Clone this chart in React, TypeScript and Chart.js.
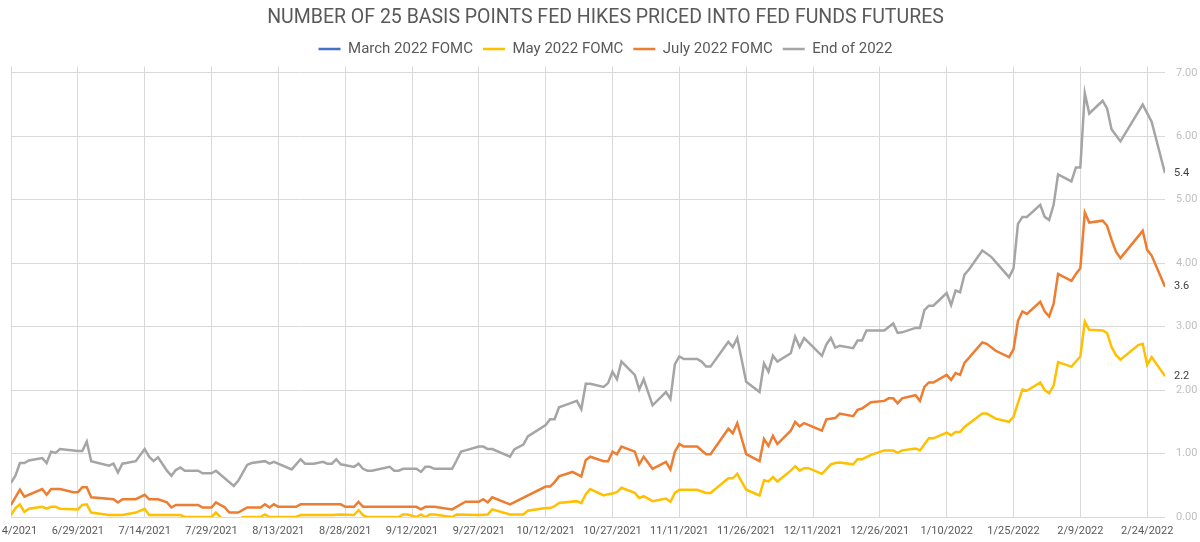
import React, { useEffect, useRef } from 'react';
import { Chart, registerables } from 'chart.js';

Chart.register(...registerables);

// x values are calendar days since 6/14/2021
const START_UTC = Date.UTC(2021, 5, 14);
const X_MAX_DAY = 259; // 2/28/2022
const X_TICK_STEP_DAYS = 15;
const Y_TICK_STEP = 1;

const TITLE = 'NUMBER OF 25 BASIS POINTS FED HIKES PRICED INTO FED FUNDS FUTURES';
const SERIES_NAMES = ['March 2022 FOMC', 'May 2022 FOMC', 'July 2022 FOMC', 'End of 2022'];

const marchDays: number[] = [];
const marchValues: number[] = [];

const mayDays = [
  0, 1, 2, 3, 4, 7, 8, 9, 10, 11, 15, 16, 17, 18, 22, 25, 28, 30, 31, 38, 39, 45, 46, 47, 48, 51, 52, 56, 57, 58,
  64, 65, 72, 74, 77, 78, 79, 80, 87, 88, 89, 91, 92, 93, 94, 95, 99, 100, 105, 107, 108, 112, 115, 116, 120, 121,
  122, 123, 127, 128, 129, 130, 133, 134, 135, 136, 137, 140, 141, 142, 144, 147, 148, 149, 150, 154, 156, 157, 161,
  162, 163, 165, 168, 169, 170, 171, 172, 175, 176, 177, 178, 179, 182, 184, 185, 186, 189, 190, 191, 193, 196, 198,
  199, 200, 203, 204, 206, 207, 210, 211, 212, 213, 214, 218, 219, 221, 224, 225, 227, 228, 231, 232, 233, 234, 235,
  238, 239, 240, 241, 242, 245, 246, 247, 248, 249, 253, 254, 255, 256, 259,
];
const mayValues = [
  0.03, 0.14, 0.2, 0.08, 0.13, 0.16, 0.13, 0.16, 0.16, 0.13, 0.12, 0.19, 0.2, 0.07, 0.03, 0.03, 0.07, 0.13, 0.03, 0.03,
  0.0, 0.0, 0.07, 0.0, -0.06, -0.06, 0.0, 0.0, 0.04, 0.0, 0.0, 0.03, 0.03, 0.04, 0.03, 0.11, 0.03, 0.0, 0.0, 0.04,
  0.04, 0.0, 0.04, 0.0, 0.04, 0.04, 0.0, 0.04, 0.03, 0.04, 0.12, 0.04, 0.04, 0.1, 0.14, 0.14, 0.17, 0.22, 0.25, 0.22,
  0.36, 0.44, 0.34, 0.36, 0.37, 0.39, 0.46, 0.38, 0.3, 0.33, 0.25, 0.29, 0.24, 0.38, 0.43, 0.43, 0.38, 0.38, 0.61,
  0.61, 0.68, 0.43, 0.34, 0.58, 0.56, 0.63, 0.56, 0.73, 0.8, 0.73, 0.77, 0.77, 0.68, 0.83, 0.85, 0.86, 0.83, 0.91,
  0.91, 0.98, 1.05, 1.05, 1.01, 1.05, 1.08, 1.05, 1.24, 1.24, 1.33, 1.29, 1.34, 1.34, 1.42, 1.63, 1.63, 1.55, 1.5,
  1.58, 2.01, 1.99, 2.12, 2.0, 1.95, 2.07, 2.44, 2.37, 2.45, 2.53, 3.08, 2.95, 2.94, 2.9, 2.68, 2.55, 2.48, 2.71,
  2.73, 2.4, 2.52, 2.22,
];

const julyDays = [
  0, 2, 3, 7, 8, 9, 11, 14, 15, 16, 17, 18, 23, 24, 25, 28, 30, 31, 33, 35, 36, 37, 42, 43, 45, 46, 48, 49, 51, 53,
  56, 57, 58, 59, 60, 64, 65, 74, 75, 77, 78, 79, 91, 92, 93, 95, 99, 102, 105, 106, 107, 108, 112, 120, 121, 122,
  123, 126, 128, 129, 130, 133, 134, 135, 136, 137, 140, 141, 142, 144, 147, 148, 149, 150, 151, 154, 156, 157, 161,
  162, 163, 165, 168, 169, 170, 171, 172, 175, 176, 177, 178, 182, 183, 185, 186, 189, 190, 191, 193, 196, 197, 198,
  199, 200, 203, 204, 205, 206, 207, 210, 211, 212, 213, 214, 218, 219, 221, 224, 225, 226, 227, 228, 231, 232, 233,
  234, 235, 238, 239, 240, 241, 242, 245, 246, 247, 248, 249, 254, 255, 256, 259,
];
const julyValues = [
  0.19, 0.43, 0.32, 0.44, 0.35, 0.44, 0.44, 0.39, 0.39, 0.47, 0.47, 0.31, 0.28, 0.23, 0.28, 0.28, 0.35, 0.28, 0.28,
  0.23, 0.15, 0.19, 0.19, 0.15, 0.15, 0.23, 0.15, 0.07, 0.07, 0.15, 0.15, 0.2, 0.15, 0.2, 0.16, 0.16, 0.2, 0.2, 0.16,
  0.16, 0.24, 0.16, 0.16, 0.12, 0.16, 0.16, 0.12, 0.24, 0.24, 0.28, 0.23, 0.31, 0.2, 0.48, 0.48, 0.55, 0.64, 0.71,
  0.64, 0.9, 0.95, 0.88, 0.88, 1.03, 0.99, 1.11, 1.03, 0.83, 0.95, 0.76, 0.87, 0.75, 1.03, 1.15, 1.11, 1.11, 0.99,
  0.99, 1.39, 1.32, 1.48, 0.99, 0.88, 1.23, 1.12, 1.28, 1.15, 1.36, 1.5, 1.43, 1.48, 1.36, 1.54, 1.56, 1.63, 1.59,
  1.69, 1.71, 1.81, 1.83, 1.87, 1.87, 1.79, 1.87, 1.92, 1.83, 2.05, 2.12, 2.12, 2.24, 2.16, 2.27, 2.24, 2.43, 2.75,
  2.73, 2.62, 2.52, 2.64, 3.09, 3.24, 3.2, 3.39, 3.24, 3.16, 3.36, 3.83, 3.72, 3.83, 3.92, 4.8, 4.64, 4.67, 4.59,
  4.37, 4.18, 4.08, 4.51, 4.21, 4.12, 3.63,
];

const endDays = [
  0, 1, 2, 3, 4, 7, 8, 9, 10, 11, 15, 16, 17, 18, 22, 23, 24, 25, 28, 30, 31, 32, 33, 35, 36, 37, 38, 39, 42, 43, 45,
  46, 50, 51, 53, 54, 57, 58, 59, 63, 65, 66, 68, 70, 71, 72, 73, 74, 77, 78, 79, 80, 81, 85, 86, 87, 88, 91, 92, 93,
  94, 95, 99, 100, 101, 102, 105, 106, 107, 108, 112, 113, 115, 116, 120, 121, 122, 123, 125, 127, 128, 129, 130, 133,
  134, 135, 136, 137, 140, 141, 142, 144, 147, 148, 149, 150, 151, 154, 155, 156, 157, 161, 162, 163, 165, 168, 169,
  170, 171, 172, 175, 176, 177, 178, 180, 182, 183, 184, 185, 186, 189, 190, 191, 192, 196, 198, 199, 200, 203, 204,
  205, 206, 207, 210, 211, 212, 213, 214, 215, 218, 220, 224, 225, 226, 227, 228, 231, 232, 233, 234, 235, 238, 239,
  240, 241, 242, 245, 246, 247, 249, 254, 256, 259,
];
const endValues = [
  0.54, 0.65, 0.85, 0.85, 0.89, 0.93, 0.85, 1.03, 1.01, 1.07, 1.04, 1.04, 1.19, 0.88, 0.81, 0.84, 0.7, 0.84, 0.88,
  1.07, 0.95, 0.88, 0.94, 0.73, 0.65, 0.74, 0.78, 0.73, 0.73, 0.69, 0.69, 0.73, 0.49, 0.57, 0.82, 0.85, 0.88, 0.84,
  0.87, 0.75, 0.91, 0.84, 0.84, 0.87, 0.84, 0.84, 0.91, 0.83, 0.79, 0.84, 0.76, 0.73, 0.73, 0.79, 0.73, 0.73, 0.76,
  0.76, 0.71, 0.79, 0.79, 0.76, 0.76, 0.89, 1.03, 1.05, 1.11, 1.11, 1.07, 1.07, 0.95, 1.07, 1.14, 1.27, 1.45, 1.54,
  1.54, 1.73, 1.78, 1.83, 1.7, 2.1, 2.1, 2.05, 2.11, 2.29, 2.17, 2.45, 2.24, 2.01, 2.17, 1.76, 1.97, 1.86, 2.41, 2.53,
  2.49, 2.49, 2.45, 2.37, 2.37, 2.76, 2.68, 2.82, 2.13, 1.97, 2.42, 2.29, 2.54, 2.45, 2.58, 2.84, 2.68, 2.82, 2.68,
  2.54, 2.72, 2.82, 2.67, 2.7, 2.66, 2.78, 2.78, 2.94, 2.94, 3.05, 2.9, 2.91, 2.98, 2.98, 3.26, 3.33, 3.33, 3.53,
  3.34, 3.57, 3.54, 3.82, 3.9, 4.2, 4.1, 3.78, 3.92, 4.62, 4.73, 4.73, 4.92, 4.73, 4.68, 4.92, 5.4, 5.29, 5.51, 5.51,
  6.68, 6.36, 6.56, 6.44, 6.11, 5.92, 6.5, 6.23, 5.42,
];

const SERIES_COLORS = ['#4472C4', '#FFC000', '#ED7D31', '#A5A5A5'];

const FONT = 'Roboto, "Liberation Sans", sans-serif';

function dayLabel(d: number): string {
  const dt = new Date(START_UTC + d * 86400000);
  return `${dt.getUTCMonth() + 1}/${dt.getUTCDate()}/${dt.getUTCFullYear()}`;
}

function toPoints(days: number[], values: number[]) {
  return days.map((d, i) => ({ x: d, y: values[i] }));
}

const endLabelPlugin = {
  id: 'endLabels',
  afterDatasetsDraw(chart: any) {
    const ctx = chart.ctx;
    ctx.save();
    ctx.font = `11px ${FONT}`;
    ctx.fillStyle = '#404040';
    ctx.textBaseline = 'middle';
    ctx.textAlign = 'left';
    chart.data.datasets.forEach((ds: any, i: number) => {
      if (!ds.data.length) return;
      const meta = chart.getDatasetMeta(i);
      const pt = meta.data[meta.data.length - 1];
      const v = ds.data[ds.data.length - 1].y;
      ctx.fillText(v.toFixed(1), pt.x + 9, pt.y);
    });
    ctx.restore();
  },
};

export default function App() {
  const ref = useRef<HTMLCanvasElement>(null);
  useEffect(() => {
    if (!ref.current) return;
    const seriesDays = [marchDays, mayDays, julyDays, endDays];
    const seriesValues = [marchValues, mayValues, julyValues, endValues];
    const chart = new Chart(ref.current, {
      type: 'line',
      data: {
        datasets: SERIES_NAMES.map((name, i) => ({
          label: name,
          data: toPoints(seriesDays[i], seriesValues[i]),
          borderColor: SERIES_COLORS[i],
          backgroundColor: SERIES_COLORS[i],
          borderWidth: 2.5,
          pointRadius: 0,
          tension: 0,
          fill: false,
        })),
      },
      options: {
        responsive: false,
        animation: false,
        devicePixelRatio: 1,
        layout: { padding: { left: 11, right: 0, top: 0, bottom: 0 } },
        plugins: {
          title: {
            display: true,
            text: TITLE,
            color: '#595959',
            font: { family: FONT, size: 19.5, weight: 'normal' },
            padding: { top: 6, bottom: 2.1 },
          },
          legend: {
            labels: {
              usePointStyle: true,
              pointStyle: 'line',
              pointStyleWidth: 22,
              color: '#595959',
              font: { family: FONT, size: 15 },
              padding: 10,
            },
          },
          tooltip: { enabled: false },
        },
        scales: {
          x: {
            type: 'linear',
            min: 0,
            max: X_MAX_DAY,
            border: { display: false },
            grid: { color: '#D9D9D9', drawTicks: false },
            ticks: {
              stepSize: X_TICK_STEP_DAYS,
              includeBounds: false,
              autoSkip: false,
              maxRotation: 0,
              color: '#595959',
              font: { family: FONT, size: 11 },
              padding: 8,
              callback: (v: any) => dayLabel(Number(v)),
            },
            afterFit: (s: any) => {
              s.paddingLeft = 0;
              s.paddingRight = 0;
              s.height = 25;
            },
          },
          y: {
            position: 'right',
            min: 0,
            max: 7.1,
            border: { display: false },
            grid: { color: '#D9D9D9', drawTicks: false },
            ticks: {
              stepSize: Y_TICK_STEP,
              includeBounds: false,
              color: '#BFBFBF',
              font: { family: FONT, size: 11 },
              padding: 11,
              callback: (v: any) => Number(v).toFixed(2),
            },
            afterFit: (s: any) => {
              s.width = 35;
            },
          },
        },
      } as any,
      plugins: [endLabelPlugin],
    });
    return () => chart.destroy();
  }, []);
  return (
    <div style={{ position: 'fixed', left: 0, top: 0, width: 1200, height: 542, background: '#fff' }}>
      <canvas ref={ref} width={1200} height={542} />
    </div>
  );
}
